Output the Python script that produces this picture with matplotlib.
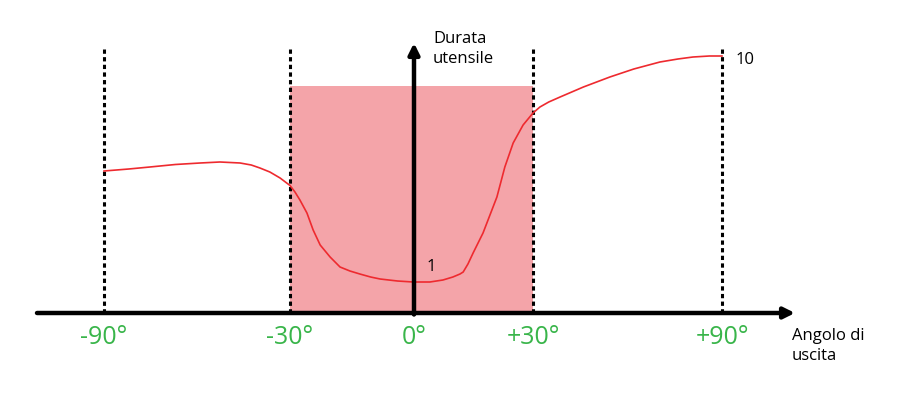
import numpy as np
import matplotlib
matplotlib.use("Agg")
import matplotlib.pyplot as plt

plt.rcParams['font.family'] = ['Open Sans', 'DejaVu Sans']

# angoli di riferimento e loro posizione sullo schema (asse non lineare)
tick_angles = [-90, -30, 0, 30, 90]
tick_labels = ["-90°", "-30°", "0°", "+30°", "+90°"]
tick_pos = [104, 290, 414, 533, 722]

# curva durata utensile (angolo, altezza sopra l'asse)
curve_angle = [-90, -82, -75.2, -67, -59, -52.6, -46.1, -42.5, -39.7, -36.5, -33.2, -30,
               -28.8, -27.6, -25.9, -24.4, -22.7, -20.3, -17.9, -15.5, -13.1, -10.5,
               -8.2, -4, -0.2, 4, 7.3, 9.8, 11.6, 12.4, 13.6, 14.9, 17.4, 20.9, 22.9,
               25, 27.5, 30, 32.2, 35, 38.6, 46, 54.4, 62, 70.3, 76, 80.8, 86, 90]
curve_life = [142, 144, 146, 148.5, 150, 151, 150, 148, 145, 141, 135, 127.5,
              121, 113, 100, 83, 68, 56, 46, 42, 39, 36,
              34, 32, 31, 31, 33, 36, 39, 41, 49, 60, 80, 116, 146,
              170, 188, 200, 206, 211, 216, 226, 236, 244, 251, 254, 256, 257, 257]

shade_angles = [-30, 30]
shade_top = 227
dash_angles = [-90, -30, 30, 90]
dash_top = 267


def pos(a):
    return np.interp(a, tick_angles, tick_pos)


fig = plt.figure(figsize=(9.21, 4.11), dpi=100)
ax = fig.add_axes([0, 0, 1, 1])
ax.set_xlim(0, 921)
ax.set_ylim(-98, 313)
ax.axis("off")

# zona rosa
x0, x1 = pos(shade_angles[0]), pos(shade_angles[1])
ax.fill_between([x0, x1], 0, shade_top, color="#f4a4a9", lw=0, zorder=1)

# linee tratteggiate
for a in dash_angles:
    ax.plot([pos(a), pos(a)], [0, dash_top], color="black", lw=2.2,
            linestyle=(0, (1.4, 1.1)), zorder=2)

# curva
ax.plot(pos(np.array(curve_angle)), curve_life, color="#ee2a2f", lw=1.2,
        solid_joinstyle="round", zorder=4)

# assi con frecce
ax.annotate("", xy=(795, 0), xytext=(37, 0),
            arrowprops=dict(arrowstyle="-|>", lw=3.2, color="black",
                            mutation_scale=16, shrinkA=0, shrinkB=0), zorder=5)
ax.annotate("", xy=(pos(0), 270), xytext=(pos(0), -1.5),
            arrowprops=dict(arrowstyle="-|>", lw=3.2, color="black",
                            mutation_scale=16, shrinkA=0, shrinkB=0), zorder=5)

# etichette
for a, lab in zip(tick_angles, tick_labels):
    ax.text(pos(a), -24, lab, color="#39b54a", fontsize=18,
            ha="center", va="center")

ax.text(433, 264, "Durata\nutensile", fontsize=12, ha="left", va="center",
        linespacing=1.3)
ax.text(792, -33, "Angolo di\nuscita", fontsize=12, ha="left", va="center",
        linespacing=1.3)
ax.text(736, 253, "10", fontsize=12, ha="left", va="center")
ax.text(427, 46, "1", fontsize=12, ha="left", va="center")

fig.savefig("out.png", dpi=100)
